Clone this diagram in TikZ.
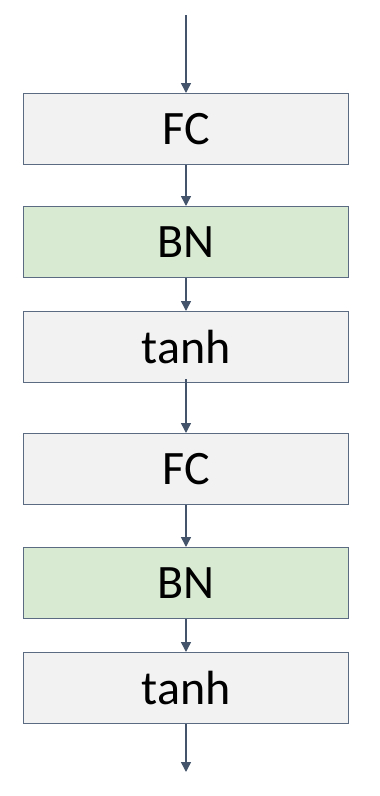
\documentclass[tikz,border=0pt]{standalone}
\usepackage{fontspec}
\setmainfont{Carlito}
\usetikzlibrary{arrows.meta}
\definecolor{boxgray}{HTML}{F2F2F2}
\definecolor{boxgreen}{HTML}{D9EAD3}
\definecolor{edge}{HTML}{5B6B82}
\definecolor{arrowc}{HTML}{44546A}
\begin{document}
\begin{tikzpicture}[x=1pt,y=-1pt,
  layer/.style={draw=edge,line width=1.3pt,minimum width=325pt,minimum height=71pt,inner sep=0pt,font=\fontsize{48}{52}\selectfont,anchor=north},
  grayb/.style={layer,fill=boxgray},
  greenb/.style={layer,fill=boxgreen},
  conn/.style={draw=arrowc,line width=1.5pt,-{Triangle[width=10pt,length=10pt]}}]
\useasboundingbox (0,0) rectangle (380,796);
\coordinate (in) at (186,15);
\node[grayb] (fc1) at (186,93) {FC};
\node[greenb] (bn1) at (186,206) {BN};
\node[grayb] (t1) at (186,311) {tanh};
\node[grayb] (fc2) at (186,433) {FC};
\node[greenb] (bn2) at (186,547) {BN};
\node[grayb] (t2) at (186,652) {tanh};
\coordinate (out) at (186,772);
\draw[conn] (in) -- (fc1.north);
\draw[conn] (fc1.south) -- (bn1.north);
\draw[conn] (bn1.south) -- (t1.north);
\draw[conn] ([yshift=4pt]t1.south) -- (fc2.north);
\draw[conn] (fc2.south) -- (bn2.north);
\draw[conn] (bn2.south) -- (t2.north);
\draw[conn] (t2.south) -- (out);
\end{tikzpicture}
\end{document}
